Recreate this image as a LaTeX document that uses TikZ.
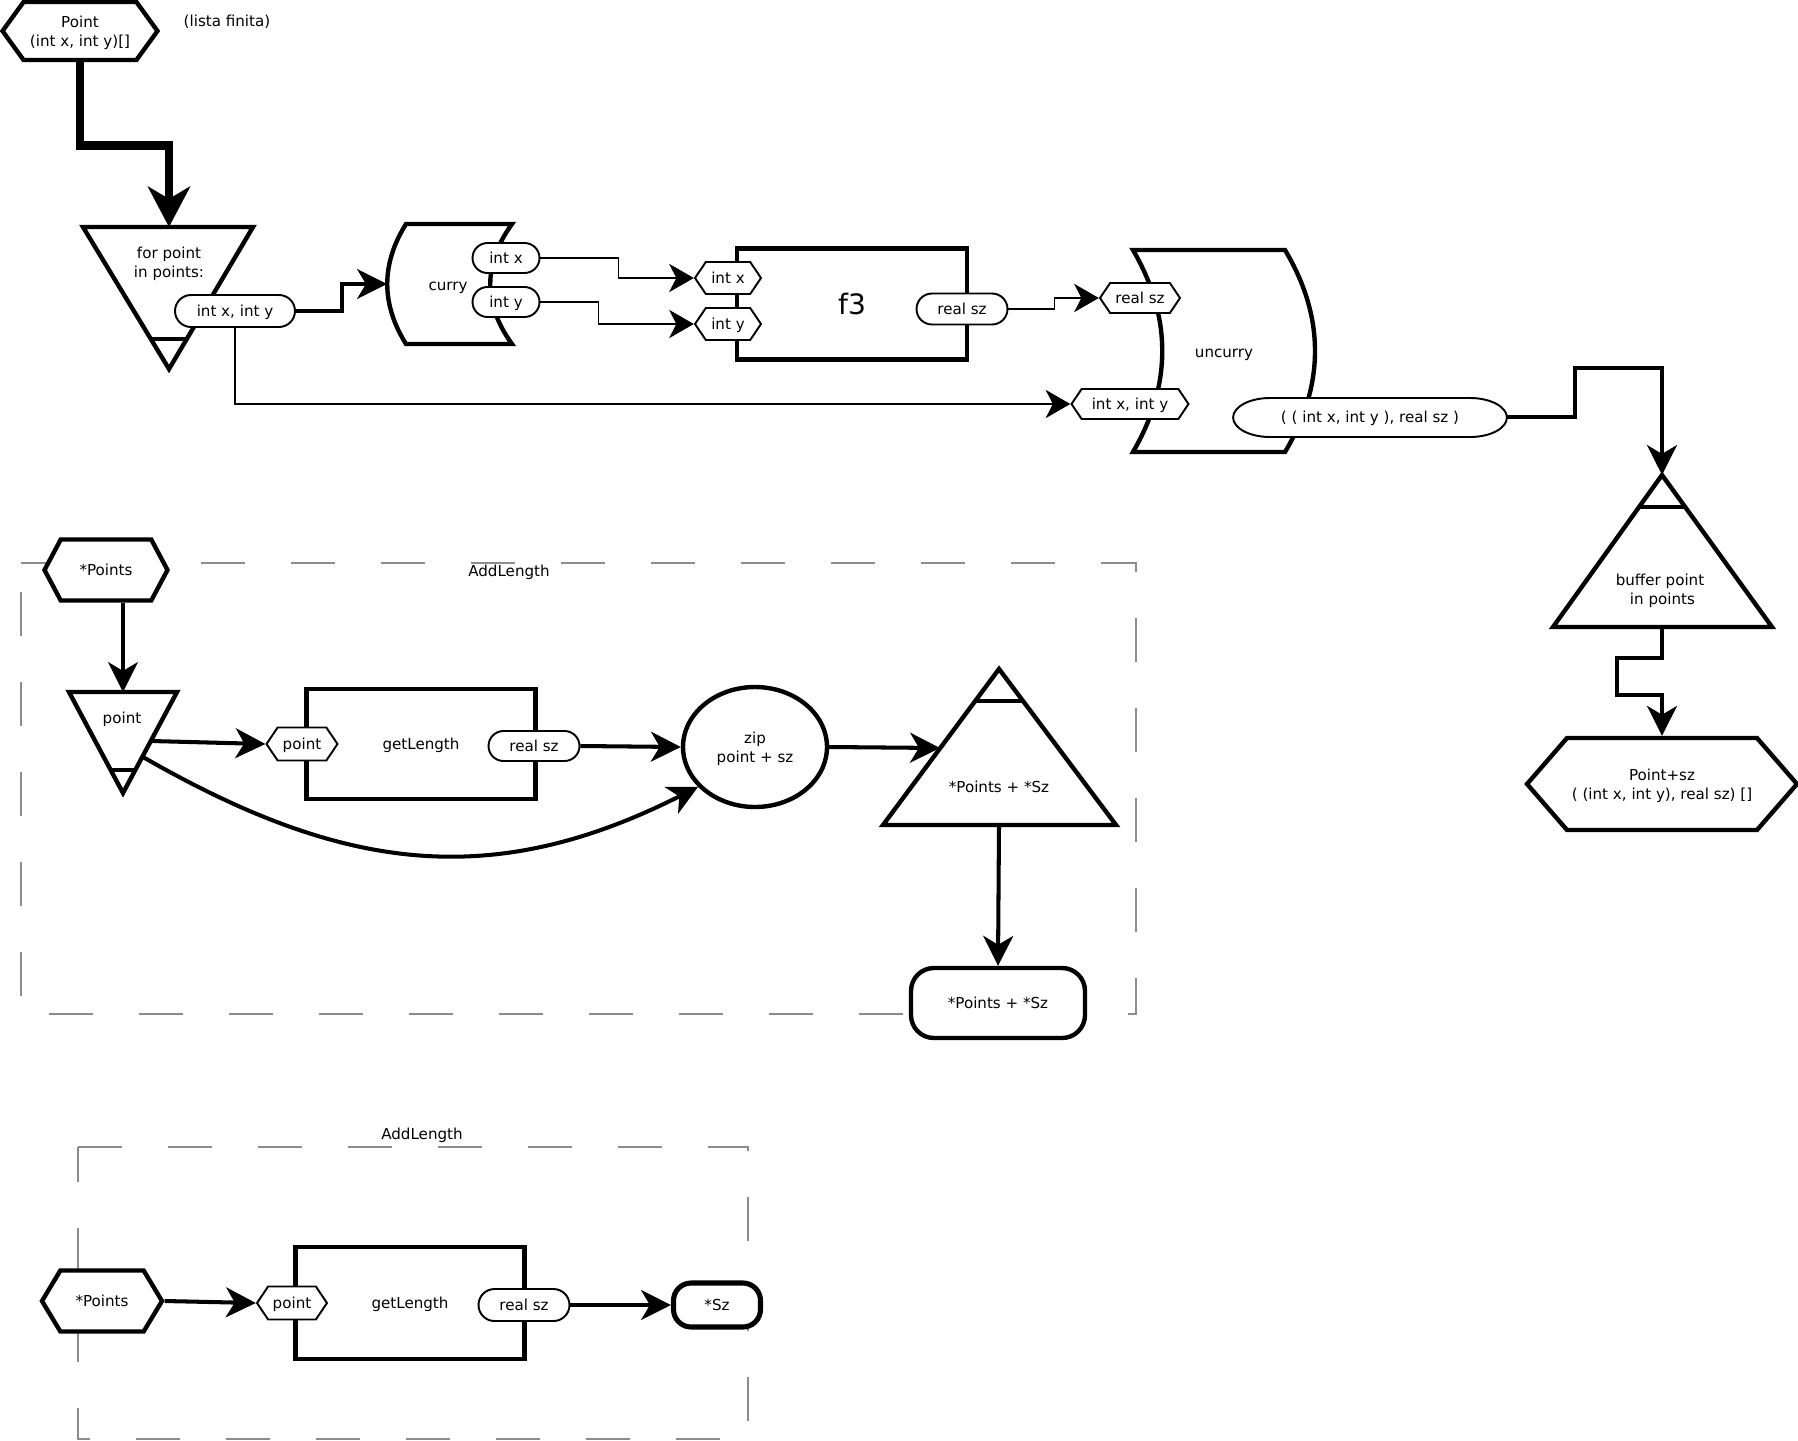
\documentclass[tikz,border=0pt]{standalone}
\usepackage{fontspec}
\setmainfont{DejaVu Sans}
\usepackage{tikz}
\usetikzlibrary{
  arrows.meta,
  calc,
  shapes.geometric,
  shapes.misc,
  shapes.symbols
}
\definecolor{inkblack}{RGB}{0,0,0}
\definecolor{framegray}{RGB}{140,140,140}
\tikzset{
  txt/.style={font=\fontsize{8.6}{10.8}\selectfont,align=center,inner sep=0pt,
    text depth=0pt},
  outline/.style={draw=inkblack,line width=2.5pt,fill=white},
  portline/.style={draw=inkblack,line width=1.1pt,fill=white},
  hexbox/.style={shape=signal,signal to=east and west,signal pointer angle=#1,
    outline,txt},
  porthex/.style={shape=signal,signal to=east and west,signal pointer angle=112,
    portline,txt,minimum height=0.64cm},
  portpill/.style={rounded rectangle,portline,txt,minimum height=0.62cm},
  funcbox/.style={rectangle,outline,txt},
  capbox/.style={rectangle,rounded corners=13pt,outline,txt},
  flow/.style={-{Stealth[length=17pt,width=17pt,inset=5pt]},line width=2.3pt,
    draw=inkblack},
  thinflow/.style={-{Stealth[length=14pt,width=16pt,inset=4pt]},line width=1.1pt,
    draw=inkblack},
  bigflow/.style={-{Stealth[length=23pt,width=24pt,inset=7pt]},line width=5pt,
    draw=inkblack},
  group/.style={draw=framegray,line width=0.8pt,dash pattern=on 25.04pt off 26.17pt}
}

\begin{document}
\begin{tikzpicture}[x=0.02cm,y=-0.02cm]
  \useasboundingbox (0,0) rectangle (1798,1440);

  % dashed groups
  \draw[group] (21,563) -- (1136,563) -- (1136,1014) -- (21,1014) -- cycle;
  \draw[group] (78,1147) -- (748,1147) -- (748,1439) -- (78,1439) -- cycle;
  \node[txt] (g1) at (509,571) {AddLength};
  \node[txt] (g2) at (422,1134) {AddLength};

  % top row
  \node[hexbox=108,minimum width=3.1cm,minimum height=1.16cm] (pts) at (80,31)
    {Point\\(int x, int y)[]};
  \node[txt] (note) at (227,21) {(lista finita)};

  \coordinate (forA) at (169,369);
  \coordinate (forL) at (83,227);
  \coordinate (forR) at (253,227);
  \coordinate (forT) at (169,227);
  \draw[outline] (forL) -- (forR) -- (forA) -- cycle;
  \draw[outline] ($(forA)!0.21!(forL)$) -- ($(forA)!0.21!(forR)$);
  \node[txt] (for) at (169,262) {for point\\in points:};
  \node[portpill,minimum width=2.4cm,minimum height=0.64cm] (xy) at (235,311)
    {int x, int y};

  \draw[outline] (406,224) -- (512,224) .. controls (483,264) and (483,304) .. (512,344)
    -- (406,344) .. controls (381,304) and (381,264) .. cycle;
  \coordinate (curryIn) at (387,284);
  \node[txt] (curry) at (448,286) {curry};
  \node[portpill,minimum width=1.34cm,minimum height=0.6cm] (cx) at (506,258) {int x};
  \node[portpill,minimum width=1.34cm,minimum height=0.6cm] (cy) at (506,302) {int y};

  \node[funcbox,minimum width=4.6cm,minimum height=2.22cm,
    font=\fontsize{16}{18}\selectfont] (f3) at (852,304) {f3};
  \node[porthex,minimum width=1.32cm] (fx) at (728,278) {int x};
  \node[porthex,minimum width=1.32cm] (fy) at (728,324) {int y};
  \node[portpill,minimum width=1.82cm] (fsz) at (962,309) {real sz};

  \draw[outline] (1133,250) -- (1285,250) .. controls (1325,317) and (1325,385) .. (1285,452)
    -- (1133,452) .. controls (1172,385) and (1172,317) .. cycle;
  \node[txt] (uncurry) at (1224,353) {uncurry};
  \node[porthex,minimum width=1.6cm,minimum height=0.6cm] (usz) at (1140,298) {real sz};
  \node[porthex,minimum width=2.34cm,minimum height=0.6cm] (uxy) at (1130,404)
    {int x, int y};
  \draw[portline] (1270,398) -- (1470,398)
    arc[start angle=90,end angle=-90,x radius=21pt,y radius=11.1pt]
    -- (1270,437) arc[start angle=270,end angle=90,x radius=21pt,y radius=11.1pt]
    -- cycle;
  \node[txt,minimum width=5.48cm,minimum height=0.78cm] (tup) at (1370,417)
    {( ( int x, int y ), real sz )};

  \coordinate (bufA) at (1662,475);
  \coordinate (bufL) at (1553,627);
  \coordinate (bufR) at (1772,627);
  \coordinate (bufB) at (1662,627);
  \draw[outline] (bufA) -- (bufR) -- (bufL) -- cycle;
  \draw[outline] ($(bufA)!0.21!(bufL)$) -- ($(bufA)!0.21!(bufR)$);
  \node[txt] (buf) at (1660,589) {buffer point\\\ in points};
  \node[hexbox=98,minimum width=5.4cm,minimum height=1.84cm] (psz) at (1662,784)
    {Point+sz\\( (int x, int y), real sz) []};

  \draw[bigflow] (pts.south) -- ++(0,83) -| (forT);
  \draw[flow] (xy.east) -- ++(46,0) |- (curryIn);
  \draw[thinflow] (cx.east) -- ++(78,0) |- (fx.west);
  \draw[thinflow] (cy.east) -- ++(58,0) |- (fy.west);
  \draw[thinflow] (fsz.east) -- ++(46,0) |- (usz.west);
  \draw[thinflow] (xy.south) |- (uxy.west);
  \draw[flow] (tup.east) -- ++(68,0) -- ++(0,-49) -| (bufA);
  \draw[flow] (bufB) -- ++(0,31) -- ++(-45,0) -- ++(0,37) -| (psz.north);

  % AddLength, first group
  \node[hexbox=124,minimum width=2.46cm,minimum height=1.22cm] (mpts) at (106,570)
    {*Points};
  \coordinate (pntA) at (123,793);
  \coordinate (pntL) at (69,692);
  \coordinate (pntR) at (177,692);
  \coordinate (pntT) at (123,692);
  \draw[outline] (pntL) -- (pntR) -- (pntA) -- cycle;
  \draw[outline] ($(pntA)!0.23!(pntL)$) -- ($(pntA)!0.23!(pntR)$);
  \node[txt] (pnt) at (122,718) {point};
  \coordinate (pntOut) at (151,741);
  \coordinate (pntArc) at (143,757);
  \node[funcbox,minimum width=4.58cm,minimum height=2.2cm] (gl) at (421,744) {getLength};
  \node[porthex,minimum width=1.42cm,minimum height=0.66cm] (glp) at (302,744) {point};
  \node[portpill,minimum width=1.82cm,minimum height=0.6cm] (glsz) at (534,746) {real sz};
  \node[ellipse,outline,txt,minimum width=2.88cm,minimum height=2.4cm] (zip) at (755,747)
    {zip\\point + sz};

  \coordinate (sumA) at (999,669);
  \coordinate (sumL) at (883,825);
  \coordinate (sumR) at (1116,825);
  \coordinate (sumB) at (999,825);
  \coordinate (sumIn) at (940,748);
  \draw[outline] (sumA) -- (sumR) -- (sumL) -- cycle;
  \draw[outline] ($(sumA)!0.205!(sumL)$) -- ($(sumA)!0.205!(sumR)$);
  \node[txt] (sum) at (999,787) {*Points + *Sz};
  \node[capbox,minimum width=3.48cm,minimum height=1.4cm] (sumOut) at (998,1003)
    {*Points + *Sz};

  \draw[flow] (mpts.south -| pntT) -- (pntT);
  \draw[flow] (pntOut) -- (glp.west);
  \draw[flow] (glsz.east) -- (zip.west);
  \draw[flow] (pntArc) .. controls (343,872) and (492,891) .. (zip.215);
  \draw[flow] (zip.east) -- (sumIn);
  \draw[flow] (sumB) -- (sumOut.north);

  % AddLength, second group
  \node[hexbox=118,minimum width=2.4cm,minimum height=1.22cm] (bpts) at (102,1301)
    {*Points};
  \node[funcbox,minimum width=4.58cm,minimum height=2.24cm] (bgl) at (410,1303) {getLength};
  \node[porthex,minimum width=1.4cm,minimum height=0.66cm] (bglp) at (292,1303) {point};
  \node[portpill,minimum width=1.82cm,minimum height=0.64cm] (bglsz) at (524,1305) {real sz};
  \node[capbox,rounded corners=10pt,line width=2.9pt,minimum width=1.74cm,
    minimum height=0.88cm] (bsz) at (717,1305) {*Sz};
  \draw[flow] (bpts.east) -- (bglp.west);
  \draw[flow] (bglsz.east) -- (bsz.west);
\end{tikzpicture}
\end{document}
